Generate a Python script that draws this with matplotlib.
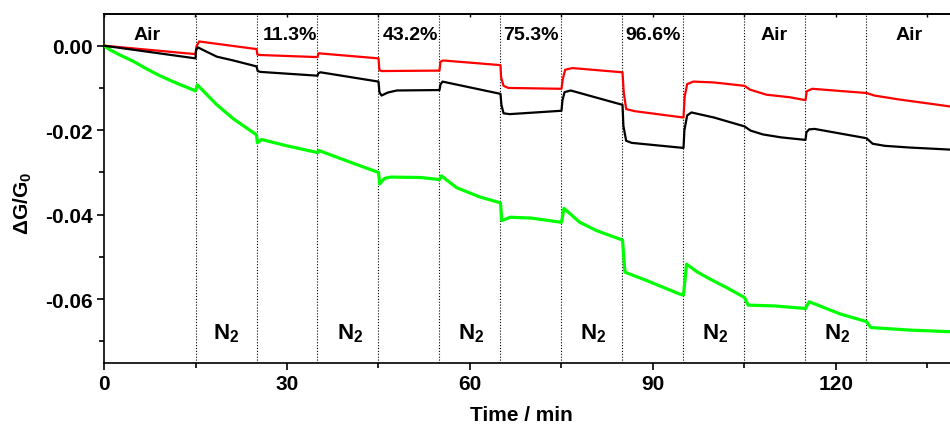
import numpy as np
import matplotlib
matplotlib.use('Agg')
import matplotlib.pyplot as plt
from matplotlib.ticker import MultipleLocator

# ── data (time in min, dG/G0) ────────────────────────────────────────────────
t_red = [0, 15, 15.15, 15.6, 25, 25.15, 25.5, 35, 35.15, 45, 45.15, 45.5,
         55, 55.15, 55.6, 65, 65.1, 65.5, 66.3, 75, 75.2, 75.6, 76.8, 85,
         85.2, 85.6, 87, 95, 95.2, 95.6, 96.6, 100, 105, 105.9, 108.6, 112.4,
         115, 115.2, 116.1, 125, 126.3, 130.2, 138.8]
v_red = [0, -0.0020, -0.0002, 0.0010, -0.0008, -0.0021, -0.0022, -0.0027,
         -0.0018, -0.0030, -0.0058, -0.0060, -0.0059, -0.0038, -0.0035,
         -0.0046, -0.0075, -0.0095, -0.0100, -0.0102, -0.0080, -0.0057,
         -0.0053, -0.0063, -0.0110, -0.0150, -0.0155, -0.0170, -0.0120,
         -0.0091, -0.0085, -0.0087, -0.0095, -0.0104, -0.0116, -0.0122,
         -0.0129, -0.0108, -0.0102, -0.0112, -0.0118, -0.0127, -0.0144]

t_blk = [0, 15, 15.1, 15.4, 16.5, 18.5, 21.2, 25, 25.2, 25.6, 35, 35.15,
         35.5, 45, 45.15, 45.5, 46.5, 48, 55, 55.15, 55.5, 65, 65.15, 65.5,
         66.5, 75, 75.15, 75.5, 76.5, 85, 85.15, 85.6, 86.5, 95, 95.15, 95.6,
         96.3, 100, 105, 106, 108, 111, 115, 115.15, 115.6, 116.5, 125, 126,
         128, 132, 138.8]
v_blk = [0, -0.0030, -0.0010, -0.0004, -0.0012, -0.0026, -0.0035, -0.0049,
         -0.0060, -0.0062, -0.0071, -0.0065, -0.0063, -0.0085, -0.0110,
         -0.0118, -0.0111, -0.0106, -0.0105, -0.0092, -0.0085, -0.0114,
         -0.0140, -0.0160, -0.0162, -0.0154, -0.0130, -0.0110, -0.0106,
         -0.0140, -0.0190, -0.0225, -0.0230, -0.0242, -0.0200, -0.0165,
         -0.0158, -0.0170, -0.0191, -0.0201, -0.0210, -0.0217, -0.0223,
         -0.0205, -0.0198, -0.0197, -0.0219, -0.0232, -0.0237, -0.0241,
         -0.0246]

t_grn = [0, 1, 2.6, 4.8, 7, 9, 11.3, 15, 15.3, 16, 18.5, 21.2, 25, 25.15,
         25.8, 30, 35, 35.2, 38, 41, 45, 45.2, 46, 47, 52, 55, 55.3, 57.8,
         61.6, 65, 65.2, 66.6, 70, 75, 75.4, 78, 80.8, 85, 85.4, 87, 89,
         94.4, 95, 95.5, 97.2, 99.3, 102, 105, 105.6, 110, 115, 115.6, 120.7,
         125, 125.7, 132, 138.8]
v_grn = [0, -0.0010, -0.0022, -0.0037, -0.0055, -0.0070, -0.0085, -0.0107,
         -0.0093, -0.0103, -0.0140, -0.0173, -0.0211, -0.0230, -0.0222,
         -0.0237, -0.0253, -0.0248, -0.0263, -0.0279, -0.0300, -0.0327,
         -0.0314, -0.0311, -0.0312, -0.0317, -0.0308, -0.0336, -0.0358,
         -0.0372, -0.0414, -0.0406, -0.0408, -0.0418, -0.0385, -0.0418,
         -0.0438, -0.0460, -0.0536, -0.0545, -0.0556, -0.0588, -0.0590,
         -0.0517, -0.0535, -0.0552, -0.0572, -0.0596, -0.0614, -0.0616,
         -0.0622, -0.0606, -0.0635, -0.0653, -0.0667, -0.0673, -0.0677]

switch_times = [15, 25, 35, 45, 55, 65, 75, 85, 95, 105, 115, 125]

top_labels = ['Air', '11.3%', '43.2%', '75.3%', '96.6%', 'Air', 'Air']
top_label_t = [7, 30.5, 50.2, 70, 90, 109.8, 131.9]
n2_label_t = [20, 40.3, 60.2, 80.2, 100.2, 120.2]

# ── style ─────────────────────────────────────────────────────────────────────
plt.rcParams.update({
    'font.family': 'Liberation Sans', 'font.weight': 'bold',
    'mathtext.fontset': 'custom',
    'mathtext.rm': 'Liberation Sans:bold',
    'mathtext.it': 'Liberation Sans:bold',
    'mathtext.bf': 'Liberation Sans:bold',
    'axes.linewidth': 1.2,
})

fig = plt.figure(figsize=(9.5, 4.27), dpi=100)
ax = fig.add_axes([104 / 950, 63 / 427, 854 / 950, 349 / 427])

for t in switch_times:
    ax.axvline(t, color='black', lw=0.8, dashes=(1, 1.6), zorder=1)

ax.plot(t_grn, v_grn, color='#00FF00', lw=2.3, zorder=3)
ax.plot(t_red, v_red, color='#FF0000', lw=1.6, zorder=4)
ax.plot(t_blk, v_blk, color='black', lw=1.6, zorder=5)

for lab, t in zip(top_labels, top_label_t):
    ax.text(t, 0.0016, lab, ha='center', va='baseline', fontsize=14,
            fontweight='bold')
for t in n2_label_t:
    ax.text(t, -0.0693, r'N$_2$', ha='center', va='baseline', fontsize=16,
            fontweight='bold')

ax.set_xlim(0, 140)
ax.set_ylim(-0.0751, 0.0075)
ax.xaxis.set_major_locator(MultipleLocator(30))
ax.xaxis.set_minor_locator(MultipleLocator(15))
ax.yaxis.set_major_locator(MultipleLocator(0.02))
ax.yaxis.set_minor_locator(MultipleLocator(0.01))
ax.yaxis.set_major_formatter(matplotlib.ticker.FormatStrFormatter('%.2f'))
ax.tick_params(which='major', direction='out', length=5, width=1.2,
               labelsize=15, pad=3)
ax.tick_params(which='minor', direction='out', length=3.5, width=1.2)
for lbl in ax.get_xticklabels() + ax.get_yticklabels():
    lbl.set_fontweight('bold')

top = ax.secondary_xaxis('top')
top.xaxis.set_major_locator(MultipleLocator(30))
top.xaxis.set_minor_locator(MultipleLocator(15))
top.tick_params(which='both', direction='in', length=2, width=1.0,
                labeltop=False)

ax.set_xlabel('Time / min', fontsize=15, fontweight='bold')
ax.xaxis.set_label_coords(0.489, -0.12)
ax.set_ylabel(r'ΔG/G$_0$', fontsize=15, fontweight='bold')
ax.yaxis.set_label_coords(-0.082, 0.46)

fig.savefig('out.png', dpi=100)
